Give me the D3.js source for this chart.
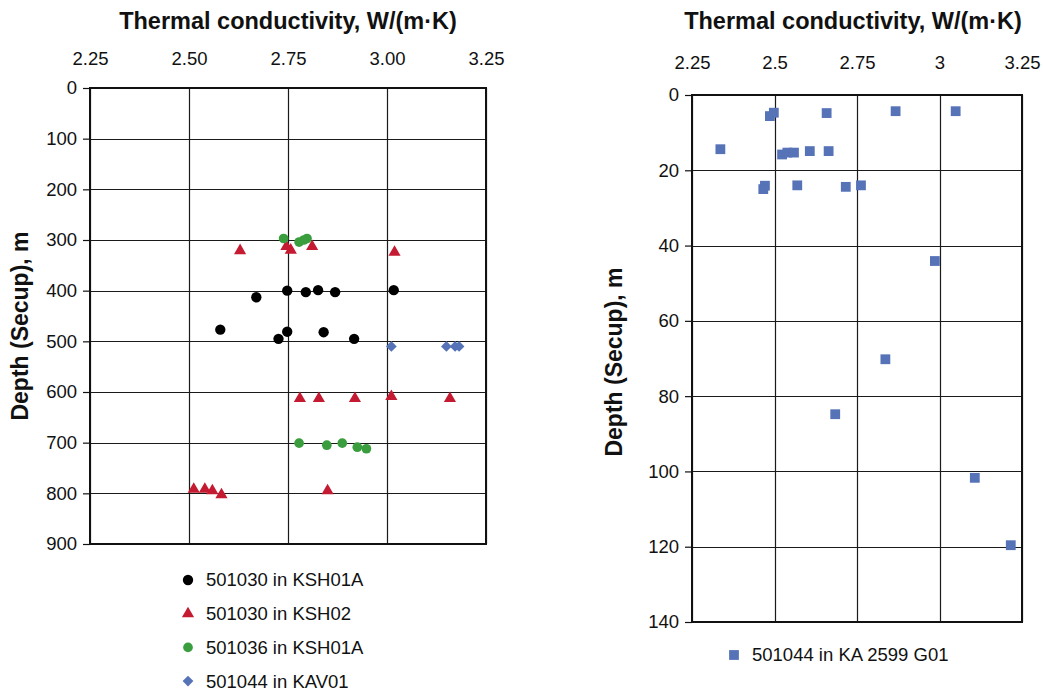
<!DOCTYPE html>
<html>
<head>
<meta charset="utf-8">
<script src="https://cdn.jsdelivr.net/npm/d3@7"></script>
<style>
  html, body { margin: 0; padding: 0; background: #fff; }
  svg { display: block; font-family: "Liberation Sans", Arial, Helvetica, sans-serif; }
</style>
</head>
<body>
<svg id="chart" width="1043" height="693"></svg>
<script>
// Thermal conductivity versus depth, two borehole panels.

const xTicksLeft = [2.25, 2.50, 2.75, 3.00, 3.25];
const xTickLabelsLeft = ["2.25", "2.50", "2.75", "3.00", "3.25"];
const yTicksLeft = [0, 100, 200, 300, 400, 500, 600, 700, 800, 900];

const xTicksRight = [2.25, 2.5, 2.75, 3, 3.25];
const xTickLabelsRight = ["2.25", "2.5", "2.75", "3", "3.25"];
const yTicksRight = [0, 20, 40, 60, 80, 100, 120, 140];

// 501030 in KSH01A
const ksh01a_501030_k = [2.748, 2.795, 2.826, 2.869, 3.017, 2.670, 2.579, 2.748, 2.840, 2.726, 2.917];
const ksh01a_501030_d = [400, 403, 399, 403, 399, 413, 477, 481, 482, 495, 495];

// 501030 in KSH02
const ksh02_501030_k = [2.629, 2.746, 2.757, 2.811, 3.019, 2.780, 2.828, 2.919, 3.011, 3.159, 2.512, 2.540, 2.559, 2.582, 2.850];
const ksh02_501030_d = [321, 313, 320, 313, 324, 613, 613, 613, 609, 613, 792, 792, 795, 803, 795];

// 501036 in KSH01A
const ksh01a_501036_k = [2.739, 2.778, 2.790, 2.798, 2.778, 2.848, 2.887, 2.925, 2.948];
const ksh01a_501036_d = [297, 304, 300, 297, 701, 705, 701, 709, 712];

// 501044 in KAV01
const kav01_501044_k = [3.011, 3.150, 3.172, 3.182];
const kav01_501044_d = [510, 510, 510, 510];

// 501044 in KA 2599 G01
const ka2599_501044_k = [2.486, 2.498, 2.658, 2.867, 3.049, 2.336, 2.523, 2.539, 2.559, 2.607, 2.664,
                         2.471, 2.466, 2.569, 2.716, 2.762, 2.986, 2.836, 2.684, 3.107, 3.216];
const ka2599_501044_d = [5.6, 4.7, 4.8, 4.3, 4.3, 14.4, 15.8, 15.3, 15.3, 14.9, 14.9,
                         24.1, 25.0, 24.0, 24.4, 24.0, 44.1, 70.2, 84.8, 101.7, 119.6];

const xTitle = "Thermal conductivity, W/(m\u00B7K)";
const yTitle = "Depth (Secup), m";

const svg = d3.select("#chart");

const symCircle = d3.symbol().type(d3.symbolCircle);
const symTri = d3.symbol().type(d3.symbolTriangle);
const symSquare = d3.symbol().type(d3.symbolSquare);

const styles = {
  blackDot:  { path: symCircle.size(84)(),  fill: "#000000", rot: 0 },
  redTri:    { path: symTri.size(64)(),     fill: "#c41a32", rot: 0 },
  greenDot:  { path: symCircle.size(74)(),  fill: "#3a9e3e", rot: 0 },
  blueDia:   { path: symSquare.size(58)(),  fill: "#5673b8", rot: 45 },
  blueSq:    { path: symSquare.size(96)(),  fill: "#5673b8", rot: 0 }
};

function drawPanel(p) {
  const x = d3.scaleLinear().domain([2.25, 3.25]).range([p.x0, p.x1]);
  const y = d3.scaleLinear().domain([0, p.yMax]).range([p.y0, p.y1]);
  const g = svg.append("g");

  // grid
  g.append("g").selectAll("line").data(p.yTicks).join("line")
    .attr("x1", p.x0).attr("x2", p.x1)
    .attr("y1", d => Math.round(y(d)) + 0.5).attr("y2", d => Math.round(y(d)) + 0.5)
    .attr("stroke", "#1a1a1a").attr("stroke-width", 1.2);
  g.append("g").selectAll("line").data(p.xTicks).join("line")
    .attr("y1", p.y0).attr("y2", p.y1)
    .attr("x1", d => Math.round(x(d)) + 0.5).attr("x2", d => Math.round(x(d)) + 0.5)
    .attr("stroke", "#1a1a1a").attr("stroke-width", 1.2);

  // frame
  g.append("rect").attr("x", p.x0).attr("y", p.y0)
    .attr("width", p.x1 - p.x0).attr("height", p.y1 - p.y0)
    .attr("fill", "none").attr("stroke", "#111").attr("stroke-width", 2);

  // left axis with outward ticks
  const yAxis = d3.axisLeft(y).tickValues(p.yTicks).tickSize(7).tickPadding(6).tickFormat(d3.format("d"));
  const ya = g.append("g").attr("transform", `translate(${p.x0},0)`).call(yAxis);
  ya.select(".domain").remove();
  ya.selectAll(".tick line").attr("stroke", "#111").attr("stroke-width", 1.2).attr("x2", 0).attr("x1", -7);
  ya.selectAll(".tick text").attr("font-size", 18.5).attr("fill", "#111")
    .attr("font-family", "'Liberation Sans', Arial, sans-serif");

  // top axis labels
  const xAxis = d3.axisTop(x).tickValues(p.xTicks).tickSize(0).tickPadding(0)
    .tickFormat((d, i) => p.xLabels[i]);
  const xa = g.append("g").attr("transform", `translate(0,${p.xLabelY})`).call(xAxis);
  xa.select(".domain").remove();
  xa.selectAll(".tick text").attr("font-size", 18.5).attr("fill", "#111")
    .attr("font-family", "'Liberation Sans', Arial, sans-serif");

  // titles
  svg.append("text").attr("x", p.titleX).attr("y", 29).attr("text-anchor", "middle")
    .attr("font-size", 23.5).attr("font-weight", "bold").attr("fill", "#111").text(xTitle);
  svg.append("text").attr("transform", `translate(${p.yTitleX},${p.yTitleY}) rotate(-90)`)
    .attr("text-anchor", "middle").attr("font-size", 23).attr("font-weight", "bold")
    .attr("fill", "#111").text(yTitle);

  // series
  p.series.forEach(s => {
    const st = styles[s.style];
    g.append("g").selectAll("path").data(d3.range(s.k.length)).join("path")
      .attr("d", st.path).attr("fill", st.fill)
      .attr("transform", i => `translate(${x(s.k[i])},${y(s.d[i])}) rotate(${st.rot})`);
  });

  // legend
  const lg = svg.append("g");
  p.series.forEach((s, i) => {
    const st = styles[s.style];
    const ly = p.legendY + i * p.legendStep;
    lg.append("path").attr("d", st.path).attr("fill", st.fill)
      .attr("transform", `translate(${p.legendX},${ly}) rotate(${st.rot})`);
    lg.append("text").attr("x", p.legendX + 18).attr("y", ly).attr("dy", "0.35em")
      .attr("font-size", 18.5).attr("fill", "#111").text(s.name);
  });
}

drawPanel({
  x0: 90, x1: 486, y0: 88, y1: 544, yMax: 900,
  xTicks: xTicksLeft, xLabels: xTickLabelsLeft, yTicks: yTicksLeft,
  xLabelY: 65, titleX: 288, yTitleX: 28, yTitleY: 326,
  legendX: 188, legendY: 580, legendStep: 33.7,
  series: [
    { name: "501030 in KSH01A", k: ksh01a_501030_k, d: ksh01a_501030_d, style: "blackDot" },
    { name: "501030 in KSH02",  k: ksh02_501030_k,  d: ksh02_501030_d,  style: "redTri" },
    { name: "501036 in KSH01A", k: ksh01a_501036_k, d: ksh01a_501036_d, style: "greenDot" },
    { name: "501044 in KAV01",  k: kav01_501044_k,  d: kav01_501044_d,  style: "blueDia" }
  ]
});

drawPanel({
  x0: 692, x1: 1022, y0: 95, y1: 622, yMax: 140,
  xTicks: xTicksRight, xLabels: xTickLabelsRight, yTicks: yTicksRight,
  xLabelY: 69, titleX: 853, yTitleX: 622, yTitleY: 362,
  legendX: 734, legendY: 655, legendStep: 34,
  series: [
    { name: "501044 in KA 2599 G01", k: ka2599_501044_k, d: ka2599_501044_d, style: "blueSq" }
  ]
});
</script>
</body>
</html>
